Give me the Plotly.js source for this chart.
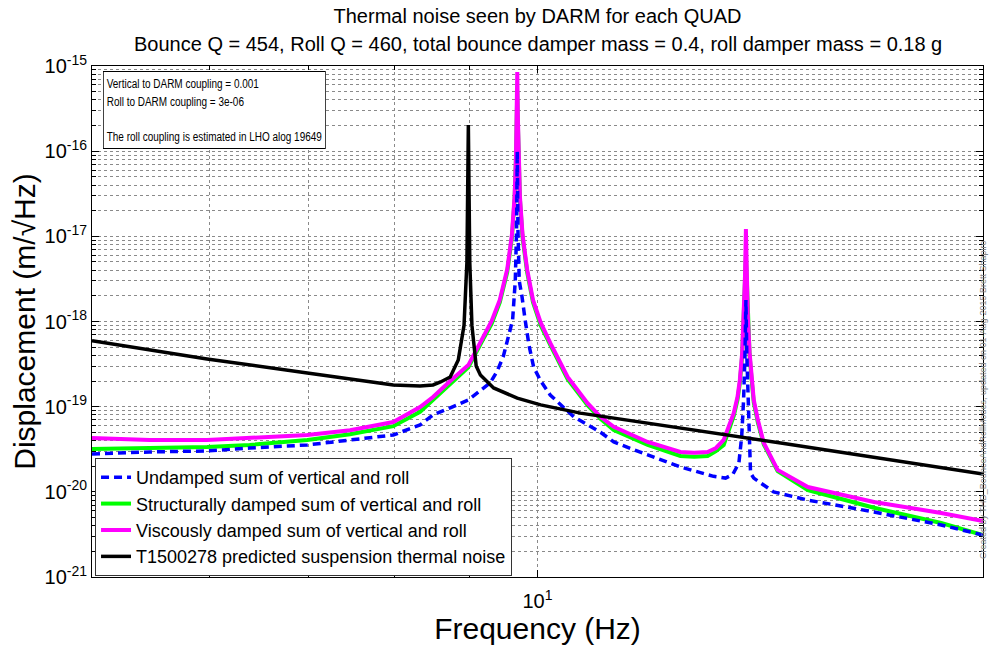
<!DOCTYPE html>
<html>
<head>
<meta charset="utf-8">
<script src="https://cdn.plot.ly/plotly-3.0.1.min.js"></script>
<style>html,body{margin:0;padding:0;background:#fff;}#chart{width:990px;height:645px;}</style>
</head>
<body>
<div id="chart"></div>
<script>
// ---- data (frequency in Hz, displacement in m/sqrt(Hz)) ----
const freqUndamped = [5.0, 5.47, 5.98, 6.39, 6.99, 7.47, 7.99, 8.33, 8.50, 8.73, 8.98, 9.29, 9.39, 9.48, 9.56, 9.62, 9.66, 9.68, 9.69, 9.70, 9.72, 9.76, 9.81, 9.87, 9.94, 10.05, 10.20, 10.58, 11.03, 11.26, 11.87, 12.49, 13.15, 13.40, 13.55, 13.68, 13.74, 13.78, 13.81, 13.83, 13.85, 13.88, 13.93, 14.00, 14.15, 14.44, 15.23, 16.88, 18.74, 20.0];
const dispUndamped = [2.78e-20, 2.94e-20, 3.02e-20, 3.27e-20, 3.55e-20, 4.06e-20, 4.65e-20, 6.1e-20, 8.0e-20, 9.7e-20, 1.20e-19, 1.90e-19, 2.6e-19, 3.83e-19, 6.5e-19, 1.04e-18, 3.0e-18, 1.2e-17, 1.0e-16, 1.2e-17, 3.0e-18, 2.0e-18, 1.04e-18, 5.2e-19, 2.92e-19, 2.0e-19, 1.37e-19, 7.6e-20, 5.0e-20, 3.85e-20, 2.71e-20, 1.96e-20, 1.52e-20, 1.45e-20, 1.6e-20, 2.18e-20, 4.5e-20, 1.2e-19, 4.0e-19, 1.79e-18, 4.0e-19, 1.0e-19, 1.66e-20, 1.45e-20, 1.27e-20, 9.96e-21, 8.0e-21, 5.8e-21, 4.08e-21, 3.11e-21];

const freqStructural = [5.0, 5.47, 5.98, 6.39, 6.99, 7.47, 7.99, 8.33, 8.50, 8.73, 8.98, 9.19, 9.31, 9.43, 9.54, 9.61, 9.65, 9.67, 9.68, 9.69, 9.70, 9.71, 9.73, 9.77, 9.84, 9.93, 10.05, 10.20, 10.48, 10.81, 11.03, 11.26, 11.87, 12.49, 12.76, 13.03, 13.20, 13.36, 13.57, 13.65, 13.70, 13.75, 13.79, 13.81, 13.83, 13.85, 13.87, 13.91, 13.96, 14.00, 14.09, 14.22, 14.53, 15.23, 16.88, 18.74, 20.0];
const dispStructural = [3.18e-20, 3.27e-20, 3.36e-20, 3.55e-20, 4.06e-20, 4.75e-20, 5.9e-20, 8.7e-20, 1.20e-19, 1.85e-19, 2.9e-19, 6.2e-19, 9.4e-19, 1.68e-18, 3.8e-18, 9.7e-18, 2.75e-17, 7.8e-17, 2.0e-16, 5.0e-16, 2.0e-16, 7.8e-17, 2.75e-17, 9.7e-18, 3.8e-18, 1.68e-18, 9.0e-19, 5.3e-19, 2.1e-19, 1.04e-19, 7.2e-20, 5.3e-20, 3.55e-20, 2.64e-20, 2.58e-20, 2.64e-20, 3.0e-20, 3.55e-20, 7.8e-20, 1.2e-19, 1.9e-19, 4.0e-19, 1.1e-18, 3.0e-18, 6.0e-18, 3.0e-18, 1.1e-18, 4.0e-19, 1.9e-19, 1.12e-19, 6.5e-20, 3.6e-20, 1.75e-20, 1.05e-20, 6.5e-21, 4.31e-21, 3.11e-21];

const freqViscous = [5.0, 5.47, 5.98, 6.39, 6.99, 7.47, 7.99, 8.33, 8.50, 8.73, 8.98, 9.19, 9.31, 9.43, 9.54, 9.61, 9.65, 9.67, 9.68, 9.69, 9.70, 9.71, 9.73, 9.77, 9.84, 9.93, 10.05, 10.20, 10.48, 10.81, 11.03, 11.26, 11.87, 12.49, 12.76, 13.03, 13.20, 13.36, 13.57, 13.65, 13.70, 13.75, 13.79, 13.81, 13.83, 13.85, 13.87, 13.91, 13.96, 14.00, 14.09, 14.22, 14.53, 15.23, 16.88, 18.74, 20.0];
const dispViscous = [4.28e-20, 4.06e-20, 4.06e-20, 4.28e-20, 4.65e-20, 5.3e-20, 6.6e-20, 9.9e-20, 1.30e-19, 2.0e-19, 3.08e-19, 6.6e-19, 1.01e-18, 1.79e-18, 4.1e-18, 1.05e-17, 2.97e-17, 8.4e-17, 2.4e-16, 8.5e-16, 2.4e-16, 8.4e-17, 2.97e-17, 1.05e-17, 4.1e-18, 1.79e-18, 9.7e-19, 5.6e-19, 2.23e-19, 1.10e-19, 7.6e-20, 5.8e-20, 3.85e-20, 2.94e-20, 2.87e-20, 2.94e-20, 3.27e-20, 4.06e-20, 8.4e-20, 1.3e-19, 2.06e-19, 4.3e-19, 1.2e-18, 3.4e-18, 1.22e-17, 3.4e-18, 1.2e-18, 4.3e-19, 2.06e-19, 1.2e-19, 6.98e-20, 3.75e-20, 1.81e-20, 1.14e-20, 7.6e-21, 5.65e-21, 4.55e-21];

const freqT1500278 = [5.0, 5.98, 6.99, 7.99, 8.33, 8.50, 8.60, 8.73, 8.84, 8.92, 8.96, 8.98, 9.00, 9.03, 9.09, 9.15, 9.34, 9.69, 10.05, 10.69, 14.60, 20.0];
const dispT1500278 = [5.96e-19, 3.63e-19, 2.48e-19, 1.80e-19, 1.75e-19, 1.80e-19, 1.95e-19, 2.23e-19, 3.53e-19, 9.0e-19, 5.0e-18, 2.03e-16, 5.0e-18, 9.0e-19, 3.0e-19, 2.35e-19, 1.66e-19, 1.26e-19, 1.05e-19, 8.4e-20, 3.75e-20, 1.62e-20];

const seriesNames = [
  'Undamped sum of vertical and roll',
  'Structurally damped sum of vertical and roll',
  'Viscously damped sum of vertical and roll',
  'T1500278 predicted suspension thermal noise'
];

const xMajorVals = [10];
const xMajorText = ['10<sup>1</sup>'];
const xMinorVals = [5, 6, 7, 8, 9, 20];
const yDecades = [-21, -20, -19, -18, -17, -16, -15];

const titleLine1 = 'Thermal noise seen by DARM for each QUAD';
const titleLine2 = 'Bounce Q = 454, Roll Q = 460, total bounce damper mass = 0.4, roll damper mass = 0.18 g';
const infoText = ['Vertical to DARM coupling = 0.001', 'Roll to DARM coupling = 3e-06', ' ', 'The roll coupling is estimated in LHO alog 19649'];
const sideText = 'Created by THD_BounceAndRollModes, updated on 01-Aug-2015 Brett Shapiro';

// ---- build axis tick lists ----
const yMajorVals = yDecades.map(e => Math.pow(10, e));
const yMajorText = yDecades.map(e => '10<sup>' + e + '</sup>');
const yMinorVals = [];
yDecades.slice(0, -1).forEach(e => { for (let m = 2; m <= 9; m++) yMinorVals.push(m * Math.pow(10, e)); });

const FONT = 'Liberation Sans, Arial, Helvetica, sans-serif';
const GRID = {showgrid: true, gridcolor: '#8a8a8a', griddash: 'dot', gridwidth: 1};

const traces = [
  {x: freqStructural, y: dispStructural, name: seriesNames[1], type: 'scatter', mode: 'lines',
   line: {color: '#00ff00', width: 4}, legendrank: 2},
  {x: freqViscous, y: dispViscous, name: seriesNames[2], type: 'scatter', mode: 'lines',
   line: {color: '#ff00ff', width: 4}, legendrank: 3},
  {x: freqUndamped, y: dispUndamped, name: seriesNames[0], type: 'scatter', mode: 'lines',
   line: {color: '#0000ff', width: 3.5, dash: '8px,5px'}, legendrank: 1},
  {x: freqT1500278, y: dispT1500278, name: seriesNames[3], type: 'scatter', mode: 'lines',
   line: {color: '#000000', width: 3.5}, legendrank: 4}
];

const layout = {
  width: 990, height: 645,
  margin: {l: 92, r: 7, t: 66, b: 68},
  paper_bgcolor: '#ffffff', plot_bgcolor: '#ffffff',
  font: {family: FONT, color: '#000'},
  title: {text: titleLine1, font: {family: FONT, size: 20, color: '#000'},
          x: 0.5, xref: 'paper', xanchor: 'center', y: 1 - 16 / 645, yref: 'container', yanchor: 'middle'},
  showlegend: true,
  legend: {x: 0.0034, y: 0.002, xanchor: 'left', yanchor: 'bottom', bgcolor: '#ffffff',
           bordercolor: '#333', borderwidth: 1, font: {family: FONT, size: 18, color: '#000'},
           traceorder: 'normal', itemwidth: 30, tracegroupgap: 0},
  xaxis: Object.assign({
    type: 'log', range: [Math.log10(5), Math.log10(20)],
    tickmode: 'array', tickvals: xMajorVals, ticktext: xMajorText,
    ticks: 'inside', ticklen: 7, tickcolor: '#000', ticklabelstandoff: 6,
    minor: Object.assign({tickmode: 'array', tickvals: xMinorVals, ticks: 'inside', ticklen: 4, tickcolor: '#000'}, GRID),
    showline: true, linecolor: '#000', linewidth: 1, mirror: 'allticks', zeroline: false,
    tickfont: {family: FONT, size: 20, color: '#000'},
    title: {text: 'Frequency (Hz)', font: {family: FONT, size: 30, color: '#000'}, standoff: 6},
    automargin: false
  }, GRID),
  yaxis: Object.assign({
    type: 'log', range: [-21, -15],
    tickmode: 'array', tickvals: yMajorVals, ticktext: yMajorText,
    ticks: 'inside', ticklen: 7, tickcolor: '#000',
    minor: Object.assign({tickmode: 'array', tickvals: yMinorVals, ticks: 'inside', ticklen: 4, tickcolor: '#000'}, GRID),
    showline: true, linecolor: '#000', linewidth: 1, mirror: 'allticks', zeroline: false,
    tickfont: {family: FONT, size: 20, color: '#000'},
    title: {text: 'Displacement (m/\u221AHz)', font: {family: FONT, size: 30, color: '#000'}, standoff: 0},
    automargin: false
  }, GRID),
  annotations: [
    {text: titleLine2, xref: 'paper', yref: 'paper', x: 0.5, y: (577 - 44) / 511, xanchor: 'center', yanchor: 'middle',
     showarrow: false, font: {family: FONT, size: 20, color: '#000'}},
    {text: infoText.join('<br>'), xref: 'paper', yref: 'paper', x: (103 - 92) / 891, y: (577 - 71) / 511,
     xanchor: 'left', yanchor: 'top', align: 'left', showarrow: false,
     bgcolor: '#ffffff', bordercolor: '#000', borderwidth: 1, borderpad: 4,
     font: {family: FONT, size: 13.5, color: '#000'}},
    {text: sideText, xref: 'paper', yref: 'paper', x: (983 - 92) / 891, y: (577 - 400) / 511,
     xanchor: 'center', yanchor: 'middle', textangle: -90, showarrow: false,
     font: {family: FONT, size: 9, color: '#888'}}
  ]
};

Plotly.newPlot('chart', traces, layout, {displayModeBar: false, responsive: false}).then(() => {
  // the reference draws the info box in a condensed face; narrow it horizontally
  const inner = document.querySelector('.annotation[data-index="1"] .annotation-text-g > g');
  if (inner) {
    const t = inner.getAttribute('transform') || '';
    inner.setAttribute('transform', t + ' scale(0.74,1)');
  }
});
</script>
</body>
</html>
